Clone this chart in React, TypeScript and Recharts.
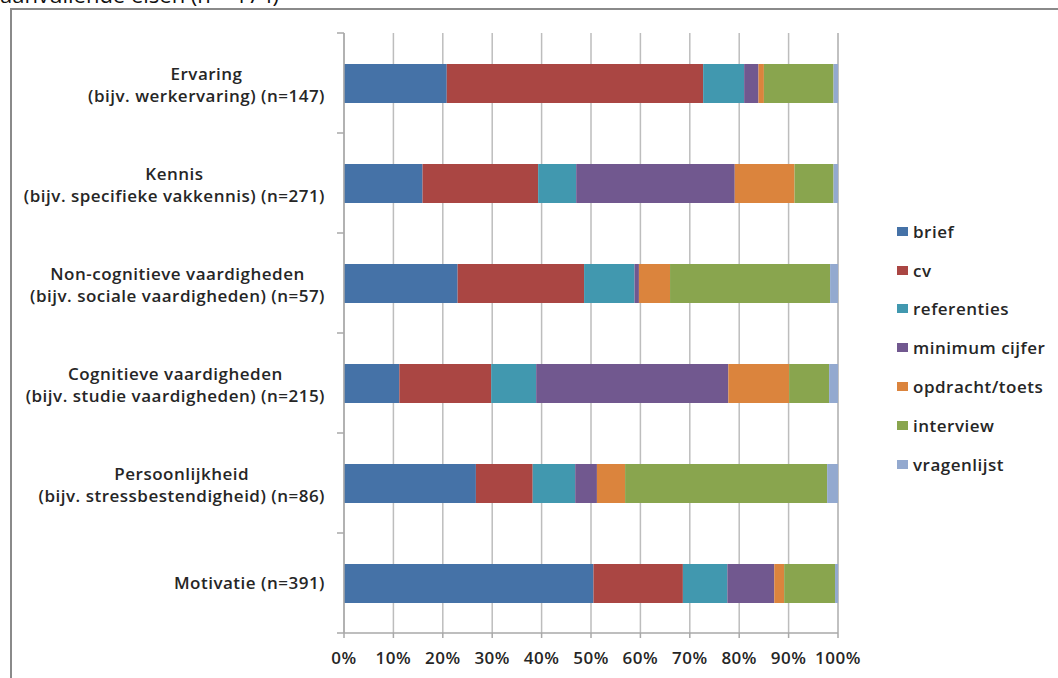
import React from "react";
import { BarChart, Bar, XAxis, YAxis, CartesianGrid } from "recharts";

const categories = [
  "Ervaring\n(bijv. werkervaring) (n=147)",
  "Kennis\n(bijv. specifieke vakkennis) (n=271)",
  "Non-cognitieve vaardigheden\n(bijv. sociale vaardigheden) (n=57)",
  "Cognitieve vaardigheden\n(bijv. studie vaardigheden) (n=215)",
  "Persoonlijkheid\n(bijv. stressbestendigheid) (n=86)",
  "Motivatie (n=391)",
];

const seriesNames = ["brief", "cv", "referenties", "minimum cijfer", "opdracht/toets", "interview", "vragenlijst"];
const seriesColors = ["#4572a7", "#aa4643", "#4198af", "#71588f", "#db843d", "#89a54e", "#93a9cf"];

const brief = [20.8, 15.9, 23.0, 11.2, 26.7, 50.5];
const cv = [51.9, 23.4, 25.6, 18.6, 11.5, 18.1];
const referenties = [8.3, 7.7, 10.2, 9.1, 8.6, 9.0];
const minimumCijfer = [2.9, 32.1, 0.9, 38.9, 4.4, 9.5];
const opdracht = [1.1, 12.1, 6.3, 12.3, 5.7, 2.0];
const interview = [14.1, 7.9, 32.4, 8.1, 40.9, 10.3];
const vragenlijst = [0.9, 0.9, 1.6, 1.8, 2.2, 0.6];

const xTicks = [0, 10, 20, 30, 40, 50, 60, 70, 80, 90, 100];

const seriesValues = [brief, cv, referenties, minimumCijfer, opdracht, interview, vragenlijst];

const data = categories.map((name, i) => {
  const row: Record<string, any> = { name };
  seriesNames.forEach((s, j) => (row[s] = seriesValues[j][i]));
  return row;
});

const W = 1058;
const H = 678;
const TOP = 33;
const PLOT_H = 600;
const Y_AXIS_W = 344;
const FONT_FAMILY = "'Open Sans', sans-serif";
const FONT_SIZE = 17;
const FONT_WEIGHT = 600;
const SPACING = 0.5;
const TEXT_COLOR = "#262626";
const AXIS_COLOR = "#a8a8a8";

let ctx: CanvasRenderingContext2D | null = null;
function textWidth(s: string) {
  if (!ctx) ctx = document.createElement("canvas").getContext("2d");
  if (!ctx) return s.length * 9;
  ctx.font = `${FONT_WEIGHT} ${FONT_SIZE}px 'Open Sans'`;
  return ctx.measureText(s).width + SPACING * s.length;
}

const CategoryTick = (props: any) => {
  const { y, payload, index } = props;
  const lines = String(payload.value).split("\n");
  const w = Math.max(...lines.map(textWidth));
  const cx = 325 - w / 2;
  const half = PLOT_H / categories.length / 2;
  const firstDy = lines.length === 1 ? 6 : -3;
  return (
    <g>
      <line x1={337} x2={344} y1={y - half} y2={y - half} stroke={AXIS_COLOR} strokeWidth={1.5} />
      {index === categories.length - 1 && (
        <line x1={337} x2={344} y1={y + half} y2={y + half} stroke={AXIS_COLOR} strokeWidth={1.5} />
      )}
      <text
        textAnchor="middle"
        fill={TEXT_COLOR}
        fontSize={FONT_SIZE}
        fontWeight={FONT_WEIGHT}
        letterSpacing={SPACING}
        fontFamily={FONT_FAMILY}
      >
        {lines.map((l, i) => (
          <tspan key={i} x={cx} y={y + firstDy + i * 22}>
            {l}
          </tspan>
        ))}
      </text>
    </g>
  );
};

export default function App() {
  return (
    <div style={{ position: "absolute", left: 0, top: 0, width: W, height: H, overflow: "hidden", background: "#fff" }}>
      <div
        style={{
          position: "absolute",
          left: 0,
          top: -21,
          fontFamily: FONT_FAMILY,
          fontSize: 22,
          lineHeight: "30px",
          color: "#111",
          whiteSpace: "nowrap",
        }}
      >
        aanvullende eisen (n = 174)
      </div>
      <div
        style={{
          position: "absolute",
          left: 10,
          top: 8,
          width: 1100,
          height: 720,
          border: "2px solid #8a8a8a",
        }}
      />
      <div style={{ position: "absolute", left: 0, top: 0 }}>
        <BarChart
          width={W}
          height={H}
          data={data}
          layout="vertical"
          margin={{ top: TOP, right: 220, left: 0, bottom: 10 }}
          barSize={39}
        >
          <CartesianGrid horizontal={false} stroke="#bdbdbd" strokeWidth={1.5} />
          <XAxis
            type="number"
            domain={[0, 100]}
            ticks={xTicks}
            interval={0}
            height={35}
            tickFormatter={(v) => `${v}%`}
            tick={{
              fill: TEXT_COLOR,
              fontSize: FONT_SIZE,
              fontWeight: FONT_WEIGHT,
              letterSpacing: SPACING,
              fontFamily: FONT_FAMILY,
            }}
            axisLine={{ stroke: AXIS_COLOR, strokeWidth: 1.5 }}
            tickLine={{ stroke: AXIS_COLOR, strokeWidth: 1.5 }}
            tickSize={5}
            tickMargin={14}
          />
          <YAxis
            type="category"
            dataKey="name"
            width={Y_AXIS_W}
            interval={0}
            axisLine={{ stroke: AXIS_COLOR, strokeWidth: 1.5 }}
            tickLine={false}
            tick={<CategoryTick />}
          />
          {seriesNames.map((s, i) => (
            <Bar key={s} dataKey={s} stackId="a" fill={seriesColors[i]} isAnimationActive={false} />
          ))}
        </BarChart>
      </div>
      <div
        style={{
          position: "absolute",
          left: 897,
          top: 212,
          fontFamily: FONT_FAMILY,
          fontSize: FONT_SIZE,
          fontWeight: FONT_WEIGHT,
          letterSpacing: SPACING,
          color: TEXT_COLOR,
        }}
      >
        {seriesNames.map((s, i) => (
          <div key={s} style={{ display: "flex", alignItems: "center", height: 38.8 }}>
            <span style={{ width: 11, height: 9, background: seriesColors[i], marginRight: 5, display: "inline-block" }} />
            <span>{s}</span>
          </div>
        ))}
      </div>
    </div>
  );
}
